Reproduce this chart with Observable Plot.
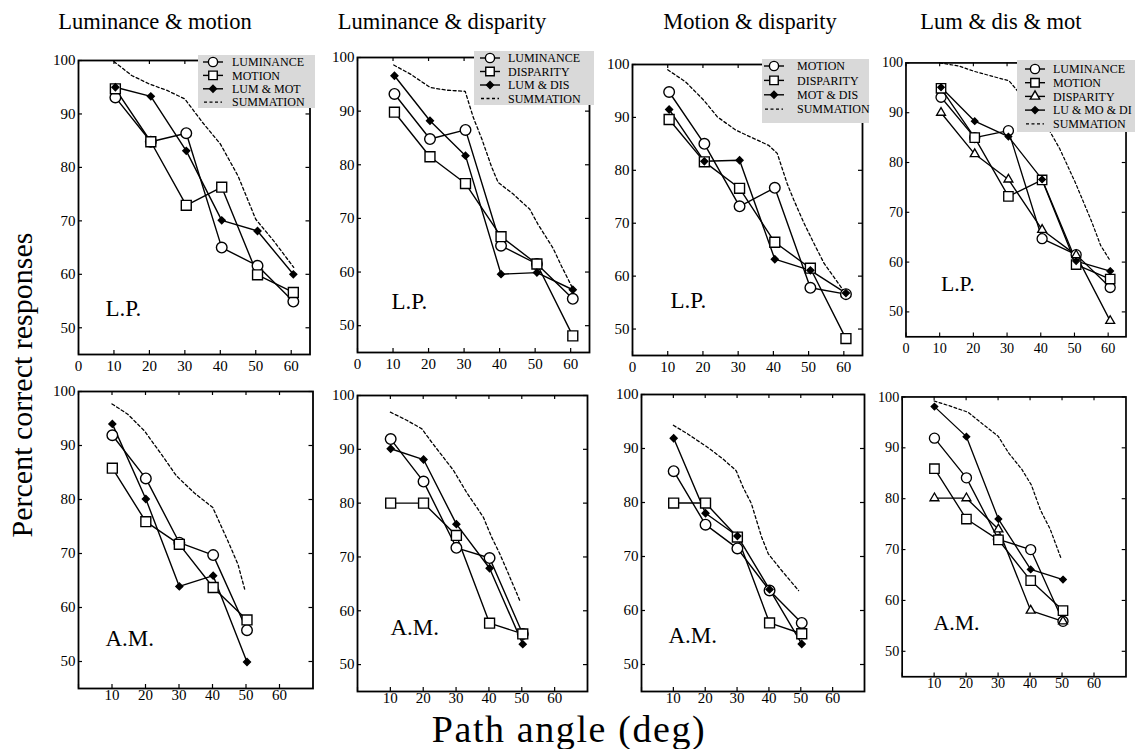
<!DOCTYPE html>
<html><head><meta charset="utf-8">
<script src="https://cdn.jsdelivr.net/npm/d3@7"></script>
<script src="https://cdn.jsdelivr.net/npm/@observablehq/plot@0.6"></script>
<style>
html,body{margin:0;padding:0;background:#fff;overflow:hidden;}
#root{position:relative;width:1135px;height:749px;overflow:hidden;font-family:"Liberation Serif","Times New Roman",serif;color:#000;}
#root svg text{font-family:"Liberation Serif","Times New Roman",serif;}
.panel{position:absolute;}
.title{position:absolute;font-size:22.5px;line-height:24px;white-space:nowrap;transform:translateX(-50%);}
.ylab{position:absolute;font-size:30px;line-height:30px;white-space:nowrap;transform:translate(-50%,-50%) rotate(-90deg);}
.xlab{position:absolute;font-size:38px;line-height:30px;letter-spacing:1.6px;white-space:nowrap;transform:translateX(-50%);}
</style></head>
<body><div id="root"></div>
<script>
// ---------- text ----------
const titles = ["Luminance & motion", "Luminance & disparity", "Motion & disparity", "Lum & dis & mot"];
const subjects = ["L.P.", "A.M."];
const yAxisTitle = "Percent correct responses";
const xAxisTitle = "Path angle (deg)";

// ---------- ticks ----------
const yTicks = [50, 60, 70, 80, 90, 100];
const xTickMarks = [0, 10, 20, 30, 40, 50, 60];
const topTickLabels = [0, 10, 20, 30, 40, 50, 60];
const bottomTickLabels = [10, 20, 30, 40, 50, 60];

// ---------- angles ----------
const angleTop = [10.4, 20.4, 30.4, 40.4, 50.5, 60.6];
const angleBottom = [10.1, 20.1, 30.1, 40.2, 50.3];

// ---------- L.P. : Luminance & motion ----------
const lp1Lum = [93.1, 84.8, 86.4, 65.0, 61.6, 54.9];
const lp1Mot = [94.7, 84.8, 72.9, 76.3, 59.9, 56.6];
const lp1LumMot = [95.0, 93.3, 83.1, 70.1, 68.1, 60.0];
const lp1SumAngle = [10, 15, 20, 25, 30, 35, 40, 45, 50, 55, 60.7];
const lp1SumPct = [99.8, 97.2, 95.6, 94.4, 92.8, 88.4, 84.4, 78.4, 70.3, 66.3, 61.3];

// ---------- L.P. : Luminance & disparity ----------
const lp2Lum = [93.2, 84.8, 86.5, 64.9, 61.5, 55.0];
const lp2Dis = [89.8, 81.5, 76.5, 66.6, 61.5, 48.1];
const lp2LumDis = [96.6, 88.2, 81.7, 59.6, 59.9, 56.7];
const lp2SumAngle = [10.2, 14.9, 20.5, 25.2, 30.3, 32.6, 35, 37.8, 39.6, 43.9, 48.5, 50.8, 55, 57.5, 60.3];
const lp2SumPct = [98.6, 96.9, 94.4, 93.9, 93.7, 88.8, 84.8, 79.5, 76.7, 74.5, 71.7, 68.9, 64.5, 61, 57.3];

// ---------- L.P. : Motion & disparity ----------
const lp3Mot = [94.8, 85.0, 73.2, 76.7, 57.8, 56.6];
const lp3Dis = [89.6, 81.6, 76.6, 66.4, 61.5, 48.2];
const lp3MotDis = [91.5, 81.7, 81.9, 63.2, 61.1, 56.8];
const lp3SumAngle = [10, 15.1, 20.3, 24.1, 29.3, 34.5, 38.7, 41.1, 43.9, 45.8, 48.7, 51.5, 54.4, 57, 60.2];
const lp3SumPct = [99, 96.7, 93.2, 90.1, 87.6, 86, 84.7, 83.2, 77.5, 74.4, 70, 66.2, 62.4, 60, 57];

// ---------- L.P. : Lum & dis & mot ----------
const lp4Lum = [93.1, 85.0, 86.4, 64.7, 61.5, 54.9];
const lp4Mot = [94.9, 85.0, 73.2, 76.5, 59.5, 56.6];
const lp4Dis = [90.0, 81.7, 76.6, 66.5, 61.4, 48.2];
const lp4All = [95.1, 88.3, 85.2, 76.6, 60.2, 58.2];
const lp4SumAngle = [10, 15.6, 20.3, 30.6, 41.9, 45.6, 50.3, 55, 57.8, 60.5];
const lp4SumPct = [100, 99.4, 98.3, 96.4, 87.2, 82.8, 75.9, 68.3, 63.3, 60.4];

// ---------- A.M. : Luminance & motion ----------
const am1Lum = [91.9, 83.9, 72.0, 69.7, 55.8];
const am1Mot = [85.8, 75.9, 71.7, 63.7, 57.7];
const am1LumMot = [94.0, 80.1, 63.9, 65.9, 49.9];
const am1SumAngle = [10, 14.7, 19.7, 24.7, 29.2, 34.6, 40.1, 44.6, 47.6, 49.6];
const am1SumPct = [97.7, 95.8, 92.7, 88.4, 84.4, 81.2, 78.5, 72.3, 68, 63.4];

// ---------- A.M. : Luminance & disparity ----------
const am2Lum = [91.9, 84.0, 71.7, 69.8, 55.7];
const am2Dis = [80.0, 80.0, 74.0, 57.7, 55.7];
const am2LumDis = [90.1, 88.1, 76.1, 67.9, 53.8];
const am2SumAngle = [10, 15, 19.6, 22.6, 29.2, 33.2, 36.3, 38.3, 40.8, 43.3, 46.4, 49.4];
const am2SumPct = [96.9, 95.4, 93.8, 91.3, 86.1, 82, 79.2, 77.4, 73.7, 70.6, 66.2, 61.9];

// ---------- A.M. : Motion & disparity ----------
const am3Mot = [85.8, 75.9, 71.5, 63.7, 57.7];
const am3Dis = [79.9, 79.9, 73.6, 57.7, 55.7];
const am3MotDis = [91.9, 78.0, 73.8, 63.9, 53.8];
const am3SumAngle = [10, 14.5, 20.8, 25.5, 29.7, 31.9, 34.5, 37.7, 39.8, 44, 49.3];
const am3SumPct = [94.3, 92.7, 90.2, 88.1, 85.9, 82.8, 79.8, 73.6, 70.5, 67.4, 63.7];

// ---------- A.M. : Lum & dis & mot ----------
const am4Lum = [91.9, 84.1, 72.0, 70.0, 55.9];
const am4Mot = [85.9, 76.0, 71.9, 63.9, 58.0];
const am4Dis = [80.1, 80.1, 74.0, 58.0, 55.9];
const am4All = [98.1, 92.2, 76.0, 66.1, 64.1];
const am4SumAngle = [10, 14.6, 20.6, 25.5, 30, 33.4, 37.4, 40.4, 43.3, 46.3, 49.8];
const am4SumPct = [99.2, 98.3, 97, 94.5, 92.3, 88.9, 85.8, 82.7, 77.7, 74, 68.1];

// ---------- legend names ----------
const legendNames = [
  ["LUMINANCE", "MOTION", "LUM & MOT", "SUMMATION"],
  ["LUMINANCE", "DISPARITY", "LUM & DIS", "SUMMATION"],
  ["MOTION", "DISPARITY", "MOT & DIS", "SUMMATION"],
  ["LUMINANCE", "MOTION", "DISPARITY", "LU & MO & DI", "SUMMATION"]
];
const kinds3 = ["circle", "square", "diamond"];
const kinds4 = ["circle", "square", "triangle", "diamond"];

// ---------- layout (pixels) ----------
const frameLeft   = [77.5, 357, 632, 908, 77.5, 357, 641, 904];
const frameRight  = [309, 589, 862, 1141, 312, 587, 864, 1140];
const frameTop    = [60, 57, 64, 63, 391, 395, 394, 397];
const frameBottom = [354, 352, 355, 353, 688, 691, 691, 692];
const topDomain = [0, 65.3];
const bottomDomain = [0, 70];
const labelDx = [27, 34, 38, 37, 27, 33, 27, 33];
const labelDy = [-46, -51, -55, -56, -50, -64, -56, -57];
const titleX = [155, 442, 750, 1001];
const legendBox = [
  {left: 198, top: 55, width: 117, height: 53, first: 7, step: 13.4, sx: 15, tx: 34},
  {left: 474, top: 51, width: 120, height: 54, first: 7, step: 13.5, sx: 16, tx: 34},
  {left: 762, top: 59, width: 107, height: 64, first: 7, step: 14.4, sx: 12, tx: 35},
  {left: 1017, top: 60, width: 125, height: 72, first: 9, step: 13.7, sx: 18, tx: 36}
];

const symbolStyle = {
  circle:   {symbol: "circle",   r: 5.3, fill: "white"},
  square:   {symbol: "square",   r: 5.6, fill: "white"},
  triangle: {symbol: "triangle", r: 3.5, fill: "white"},
  diamond:  {symbol: "diamond2", r: 3.1, fill: "black"}
};
const serif = '"Liberation Serif", "Times New Roman", serif';

const panels = [
  {col: 0, subject: 0, angles: angleTop, values: [lp1Lum, lp1Mot, lp1LumMot], kinds: kinds3, sumA: lp1SumAngle, sumP: lp1SumPct},
  {col: 1, subject: 0, angles: angleTop, values: [lp2Lum, lp2Dis, lp2LumDis], kinds: kinds3, sumA: lp2SumAngle, sumP: lp2SumPct},
  {col: 2, subject: 0, angles: angleTop, values: [lp3Mot, lp3Dis, lp3MotDis], kinds: kinds3, sumA: lp3SumAngle, sumP: lp3SumPct},
  {col: 3, subject: 0, angles: angleTop, values: [lp4Lum, lp4Mot, lp4Dis, lp4All], kinds: kinds4, sumA: lp4SumAngle, sumP: lp4SumPct},
  {col: 0, subject: 1, angles: angleBottom, values: [am1Lum, am1Mot, am1LumMot], kinds: kinds3, sumA: am1SumAngle, sumP: am1SumPct},
  {col: 1, subject: 1, angles: angleBottom, values: [am2Lum, am2Dis, am2LumDis], kinds: kinds3, sumA: am2SumAngle, sumP: am2SumPct},
  {col: 2, subject: 1, angles: angleBottom, values: [am3Mot, am3Dis, am3MotDis], kinds: kinds3, sumA: am3SumAngle, sumP: am3SumPct},
  {col: 3, subject: 1, angles: angleBottom, values: [am4Lum, am4Mot, am4Dis, am4All], kinds: kinds4, sumA: am4SumAngle, sumP: am4SumPct}
];

const root = document.getElementById("root");

panels.forEach((p, i) => {
  const L = frameLeft[i], R = frameRight[i], T = frameTop[i], B = frameBottom[i];
  const mL = 45, mR = 10, mT = 10, mB = 30;
  const innerW = R - L, innerH = B - T;
  const isTop = p.subject === 0;
  const sumData = p.sumA.map((a, k) => ({x: a, y: p.sumP[k]}));
  const seriesData = p.values.map(vals => vals.map((v, k) => ({x: p.angles[k], y: v})));
  const marks = [
    Plot.tickX(xTickMarks, {x: d => d, insetTop: innerH - 4, stroke: "black", strokeWidth: 1.2}),
    Plot.tickX(xTickMarks, {x: d => d, insetBottom: innerH - 4, stroke: "black", strokeWidth: 1.2}),
    Plot.tickY(yTicks, {y: d => d, insetRight: innerW - 4, stroke: "black", strokeWidth: 1.2}),
    Plot.tickY(yTicks, {y: d => d, insetLeft: innerW - 4, stroke: "black", strokeWidth: 1.2}),
    Plot.axisX({ticks: isTop ? topTickLabels : bottomTickLabels, tickSize: 0, tickPadding: isTop ? 6 : 1, fontSize: 15, label: null, fontFamily: serif}),
    Plot.axisY({ticks: yTicks, tickSize: 0, tickPadding: 3, fontSize: 15, label: null, fontFamily: serif}),
    Plot.line(sumData, {x: "x", y: "y", stroke: "black", strokeWidth: 1.3, strokeDasharray: "3,2.5", curve: "linear"})
  ];
  seriesData.forEach(d => marks.push(Plot.line(d, {x: "x", y: "y", stroke: "black", strokeWidth: 1.4})));
  seriesData.forEach((d, s) => {
    const st = symbolStyle[p.kinds[s]];
    marks.push(Plot.dot(d, {x: "x", y: "y", symbol: st.symbol, r: st.r, fill: st.fill, stroke: "black", strokeWidth: 1.4}));
  });
  marks.push(Plot.text([subjects[p.subject]], {text: d => d, frameAnchor: "bottom-left", dx: labelDx[i], dy: labelDy[i], fontSize: 23, textAnchor: "start", lineAnchor: "middle", fill: "black", fontFamily: serif}));
  marks.push(Plot.frame({stroke: "black", strokeWidth: 1.8}));

  const chart = Plot.plot({
    width: innerW + mL + mR,
    height: innerH + mT + mB,
    marginLeft: mL, marginRight: mR, marginTop: mT, marginBottom: mB,
    x: {domain: isTop ? topDomain : bottomDomain},
    y: {domain: [45, 100]},
    style: {fontFamily: serif, fontSize: "15px", background: "transparent", overflow: "visible", color: "black"},
    marks
  });
  const div = document.createElement("div");
  div.className = "panel";
  div.style.left = (L - mL) + "px";
  div.style.top = (T - mT) + "px";
  div.appendChild(chart);
  root.appendChild(div);
});

// legends (top row)
legendBox.forEach((lg, c) => {
  const names = legendNames[c];
  const kinds = (c === 3 ? kinds4 : kinds3).concat(["dash"]);
  const svg = d3.select(root).append("svg")
    .style("position", "absolute").style("left", lg.left + "px").style("top", lg.top + "px")
    .style("overflow", "visible")
    .attr("width", lg.width).attr("height", lg.height);
  svg.append("rect").attr("width", lg.width).attr("height", lg.height).attr("fill", "#d9d9d9");
  names.forEach((name, j) => {
    const y = lg.first + j * lg.step;
    const k = kinds[j];
    if (k === "dash") {
      svg.append("line").attr("x1", lg.sx - 9).attr("x2", lg.sx + 9).attr("y1", y).attr("y2", y)
        .attr("stroke", "black").attr("stroke-width", 1.3).attr("stroke-dasharray", "3,2.5");
    } else {
      svg.append("line").attr("x1", lg.sx - 10).attr("x2", lg.sx + 10).attr("y1", y).attr("y2", y)
        .attr("stroke", "black").attr("stroke-width", 1.4);
      const st = symbolStyle[k];
      const sym = {circle: d3.symbolCircle, square: d3.symbolSquare, triangle: d3.symbolTriangle, diamond: d3.symbolDiamond2}[k];
      const r = k === "circle" ? 4.6 : k === "square" ? 4.8 : st.r;
      svg.append("path").attr("d", d3.symbol(sym, Math.PI * r * r)())
        .attr("transform", `translate(${lg.sx},${y})`)
        .attr("fill", st.fill).attr("stroke", "black").attr("stroke-width", 1.4);
    }
    svg.append("text").attr("x", lg.tx).attr("y", y).attr("dy", "0.35em")
      .attr("font-family", serif).attr("font-size", 12)
      .attr("fill", "black").text(name);
  });
});

// titles
titles.forEach((t, c) => {
  const d = document.createElement("div");
  d.className = "title";
  d.style.left = titleX[c] + "px";
  d.style.top = "10px";
  d.textContent = t;
  root.appendChild(d);
});

const yl = document.createElement("div");
yl.className = "ylab"; yl.style.left = "22px"; yl.style.top = "385px"; yl.textContent = yAxisTitle;
root.appendChild(yl);
const xl = document.createElement("div");
xl.className = "xlab"; xl.style.left = "569px"; xl.style.top = "714px"; xl.textContent = xAxisTitle;
root.appendChild(xl);
</script>
</body></html>
